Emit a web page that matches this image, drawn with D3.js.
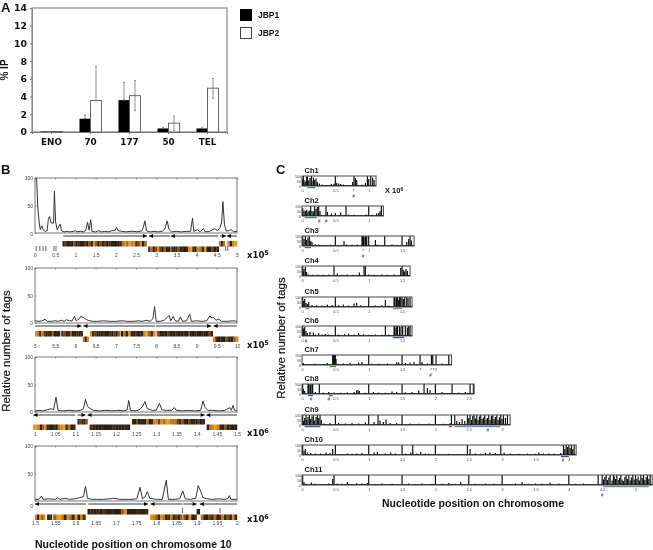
<!DOCTYPE html>
<html>
<head>
<meta charset="utf-8">
<script src="https://cdn.jsdelivr.net/npm/d3@7"></script>
<style>
body { margin: 0; background: #fff; }
svg { display: block; filter: blur(0.4px); font-family: "Liberation Sans", Arial, sans-serif; }
.small text { font-size: 5px; fill: #444; }
.small .domain { display: none; }
</style>
</head>
<body>
<div id="chart"></div>
<script>
// panel A
const categories = ["ENO", "70", "177", "50", "TEL"];
const jbp1 = [0.05, 1.5, 3.6, 0.4, 0.4];
const jbp2 = [0.05, 3.55, 4.1, 1.0, 4.95];
const jbp1Low = [0.05, 1.5, 3.6, 0.4, 0.4];
const jbp1High = [0.05, 1.9, 5.6, 0.5, 0.55];
const jbp2Low = [0.05, 3.55, 2.4, 0.2, 3.8];
const jbp2High = [0.05, 7.4, 5.8, 1.8, 6.05];
const percentTicks = [0, 2, 4, 6, 8, 10, 12, 14];

// panel B, tag profiles along chromosome 10 [position, tags]
const b1Line = [[0,100],[0.04,100],[0.07,45],[0.1,22],[0.13,6],[0.17,13],[0.2,6],[0.25,3],[0.3,4],[0.33,25],[0.36,30],[0.4,18],[0.46,18],[0.48,76],[0.51,20],[0.55,6],[0.58,11],[0.62,16],[0.66,4],[0.72,2],[0.8,3],[0.86,2],[0.95,3],[1,4],[1.04,2],[1.12,3],[1.2,2],[1.26,5],[1.3,20],[1.34,5],[1.38,24],[1.41,3],[1.5,2],[1.58,4],[1.65,2],[1.74,3],[1.82,2],[1.9,4],[1.98,5],[2.02,10],[2.06,4],[2.15,3],[2.25,2],[2.35,3],[2.45,3],[2.55,2],[2.64,4],[2.68,10],[2.72,22],[2.76,4],[2.85,2],[2.95,3],[3.05,2],[3.15,3],[3.22,8],[3.27,22],[3.32,6],[3.38,2],[3.5,3],[3.62,2],[3.74,3],[3.85,3],[3.9,27],[3.93,3],[4.02,6],[4.08,2],[4.17,8],[4.21,2],[4.32,3],[4.45,8],[4.52,4],[4.58,10],[4.62,20],[4.65,57],[4.69,15],[4.74,3],[4.85,6],[4.92,2],[5,3]];
const b2Line = [[5,4],[5.1,3],[5.18,4],[5.25,7],[5.3,3],[5.4,3],[5.5,4],[5.58,3],[5.65,5],[5.72,3],[5.78,6],[5.85,4],[5.92,4],[5.98,12],[6.02,4],[6.1,8],[6.13,12],[6.2,10],[6.28,6],[6.35,4],[6.45,3],[6.55,3],[6.7,4],[6.85,3],[7,3],[7.15,4],[7.3,3],[7.45,3],[7.55,4],[7.65,3],[7.75,5],[7.85,3],[7.92,8],[7.96,30],[8,3],[8.1,3],[8.2,5],[8.32,14],[8.36,4],[8.42,12],[8.47,4],[8.55,3],[8.6,11],[8.65,3],[8.75,4],[8.83,16],[8.87,3],[9,4],[9.12,3],[9.25,4],[9.33,13],[9.37,9],[9.42,10],[9.48,5],[9.55,7],[9.62,3],[9.75,3],[9.9,4],[10,3]];
const b3Line = [[1,2],[1.01,3],[1.02,2],[1.03,4],[1.04,6],[1.046,4],[1.052,27],[1.057,3],[1.07,2],[1.085,3],[1.1,2],[1.112,3],[1.12,6],[1.125,23],[1.13,10],[1.137,6],[1.145,3],[1.16,2],[1.175,3],[1.19,2],[1.205,3],[1.22,2],[1.228,4],[1.232,21],[1.236,3],[1.25,2],[1.26,5],[1.268,12],[1.272,19],[1.278,6],[1.29,3],[1.3,3],[1.308,16],[1.314,4],[1.325,3],[1.338,3],[1.345,8],[1.35,3],[1.365,2],[1.38,3],[1.395,2],[1.41,3],[1.416,20],[1.421,8],[1.428,3],[1.44,3],[1.455,2],[1.47,3],[1.482,8],[1.486,3],[1.49,12],[1.494,3],[1.5,2]];
const b4Line = [[1.5,3],[1.51,3],[1.516,9],[1.52,3],[1.535,4],[1.55,3],[1.556,6],[1.562,3],[1.575,5],[1.585,3],[1.6,4],[1.61,6],[1.62,8],[1.625,27],[1.63,5],[1.64,3],[1.655,3],[1.67,3],[1.685,4],[1.695,5],[1.71,3],[1.725,3],[1.74,3],[1.752,4],[1.76,25],[1.766,4],[1.772,7],[1.778,17],[1.784,5],[1.8,3],[1.815,3],[1.825,38],[1.83,3],[1.845,3],[1.858,4],[1.866,18],[1.872,4],[1.885,3],[1.898,5],[1.904,28],[1.91,18],[1.916,6],[1.925,4],[1.94,3],[1.955,4],[1.97,3],[1.978,5],[1.981,10],[1.985,3],[2,3]];
const b1Ticks = [0, 0.5, 1, 1.5, 2, 2.5, 3, 3.5, 4, 4.5, 5];
const b2Ticks = [5, 5.5, 6, 6.5, 7, 7.5, 8, 8.5, 9, 9.5, 10];
const b3Ticks = [1, 1.05, 1.1, 1.15, 1.2, 1.25, 1.3, 1.35, 1.4, 1.45, 1.5];
const b4Ticks = [1.5, 1.55, 1.6, 1.65, 1.7, 1.75, 1.8, 1.85, 1.9, 1.95, 2];
const tagTicks = [0, 50, 100];

// transcription direction arrows [from, to], pointing towards "to"
const b1Arrows = [[0.7,2.77],[3.34,2.82],[4.53,3.36],[4.57,4.73],[5,4.75]];
const b2Arrows = [[5,6.15],[7.98,6.2],[8,9.36],[10,9.42]];
const b3Arrows = [[1.1,0.996],[1.105,1.125],[1.232,1.13],[1.235,1.42],[1.5,1.424]];
const b4Arrows = [[1.626,1.5],[1.632,1.78],[1.865,1.786],[1.867,1.9],[2,1.908]];

// gene bands [from, to, row], with orange level of each stripe
const b1Bands = [[0.68,1.32,0],[1.32,1.98,0],[1.98,2.76,0],[2.8,3.35,1],[3.37,4.0,1],[4.0,4.55,1],[4.55,4.7,0],[4.76,5,0]];
const b1Levels = [[.1,.4,.1,.2,.1,.5,.1,.3,.1,.1,.4,.1],[.5,.1,.9,.6,.1,.5,.2,.4,.1,.3,.1,.1],[.1,.1,.2,.7,.9,.6,1,.8,.9,.2,.5,.8,.1,.6],[.3,.7,.2,.5,.9,.4,.1,.6,.2,.1],[.3,.1,.2,.5,.1,.3,.1,.2,.9,1,.2,.1],[.9,.7,.2,.9,.1,.1,.4,.1,.2],[.8,.2,.7],[.9,.1,.8,1]];
const b2Bands = [[5,5.62,0],[5.65,6.18,0],[6.18,6.33,1],[6.36,7.1,0],[7.12,7.98,0],[8.01,8.8,0],[8.82,9.4,0],[9.4,10.03,1]];
const b2Levels = [[.9,.7,.2,.9,.4,.1,.2,.1,.6,.1,.2,.1],[.1,.5,.1,.2,.6,.1,.1,.2,.1,.1],[.8,.1,.9],[.9,.2,.4,.1,.2,.1,.3,.1,.1,.3,.1,.4,.1,.6],[.1,.7,.2,.9,.2,.1,.3,.1,.1,.8,1,.6,.2,.9],[.5,.1,.2,.1,.4,.1,.1,.3,.1,.1,.2,.1],[.1,.1,.3,.1,.1,.2,.1,.1,.4,.1],[.9,.3,.1,.2,.1,.5,.2,.1,.6,.9]];
const b3Bands = [[0.996,1.05,1],[1.05,1.1,1],[1.105,1.13,0],[1.135,1.235,1],[1.24,1.27,0],[1.27,1.345,0],[1.345,1.42,0],[1.425,1.5,1]];
const b3Levels = [[.9,1,.8,.1,.6,.9,.2,.1,.1,.3],[.1,.7,.9,1,.3,.7,.1,.3],[.1,.4,.2,.1,.5],[.3,.1,.1,.1,.2,.1,.1,.1,.2,.1,.1,.1,.2,.1],[.2,.1,.5,.1,.2,.1],[.1,.7,.1,.2,.9,.8,.4,.9,.7,.9,1,.8,.7],[.7,.4,.2,.5,.2,.1,.4,.1,.2,.1,.4,.1,.1],[.1,.7,.9,1,.8,.2,.1,.5,.1,.2,.1,.1]];
const b4Bands = [[1.5,1.525,1],[1.53,1.542,1],[1.545,1.625,1],[1.63,1.78,0],[1.785,1.865,1],[1.867,1.9,1],[1.9,1.908,0],[1.91,2,1]];
const b4Levels = [[.8,.2,.9,.6,.8],[.1,.2,.1],[.6,.9,1,.7,.2,.9,.6,.2,.9,.1,.8,.3],[.1,.2,.1,.2,.1,.3,.1,.1,.2,.1,.1,.6,.9,.1,.1,.1,.2,.1,.1,.2],[.9,.8,.6,.2,.9,.7,.1,.3,.8,.2,.4,.2,.6],[.5,.2,.9,.1,.3],[.1],[.7,.2,.1,.4,.2,.6,.1,.3,.8,.2,.5,.1,.9,.2]];

// little black marks under the first profile and the ones above the bands in the last
const b1Marks = [0.03, 0.12, 0.2, 0.27, 0.47, 0.52, 4.72, 4.77];
const b4Marks = [1.865, 1.958];

// panel C
const chrNames = ["Ch1", "Ch2", "Ch3", "Ch4", "Ch5", "Ch6", "Ch7", "Ch8", "Ch9", "Ch10", "Ch11"];
const chrLengths = [1.11, 1.22, 1.68, 1.62, 1.65, 1.65, 2.24, 2.58, 3.12, 4.11, 5.25];
const chrTicks = [[0,0.5,1],[0,0.5,1],[0,0.5,1,1.5],[0,0.5,1,1.5],[0,0.5,1,1.5],[0,0.5,1,1.5],[0,0.5,1,1.5,2],[0,0.5,1,1.5,2,2.5],[0,0.5,1,1.5,2,2.5,3],[0,0.5,1,1.5,2,2.5,3,3.5,4],[0,0.5,1,1.5,2,2.5,3,3.5,4,4.5,5]];
const chrSpikes = [
  [[0.01,70],[0.02,100],[0.03,60],[0.05,45],[0.07,90],[0.08,100],[0.1,55],[0.12,80],[0.14,100],[0.15,50],[0.17,85],[0.19,60],[0.21,75],[0.23,40],[0.26,25],[0.3,15],[0.38,10],[0.44,20],[0.48,22],[0.5,100],[0.52,30],[0.55,25],[0.58,20],[0.62,15],[0.72,10],[0.76,40],[0.78,100],[0.8,80],[0.82,60],[0.9,12],[0.95,30],[0.98,100],[1.0,70],[1.03,100],[1.06,85],[1.08,60]],
  [[0.01,80],[0.03,55],[0.05,50],[0.07,60],[0.09,45],[0.11,55],[0.13,100],[0.15,50],[0.17,45],[0.19,100],[0.21,70],[0.23,90],[0.25,100],[0.27,50],[0.36,100],[0.38,40],[0.44,25],[0.5,30],[0.58,35],[0.66,100],[0.7,15],[0.78,12],[0.88,10],[0.96,15],[1.0,100],[1.05,12],[1.12,25],[1.15,30],[1.17,50],[1.19,100]],
  [[0.01,100],[0.03,70],[0.05,100],[0.07,60],[0.09,85],[0.11,100],[0.13,50],[0.15,40],[0.2,18],[0.25,15],[0.33,10],[0.42,12],[0.5,100],[0.63,50],[0.67,15],[0.75,12],[0.83,14],[0.9,100],[0.91,95],[0.92,100],[0.93,90],[0.95,100],[0.96,85],[0.97,100],[1.0,100],[1.1,60],[1.12,12],[1.24,100],[1.35,15],[1.42,10],[1.5,100],[1.57,40],[1.6,70],[1.62,100],[1.64,55]],
  [[0.01,100],[0.02,45],[0.03,70],[0.05,90],[0.07,40],[0.1,15],[0.16,12],[0.24,15],[0.32,12],[0.4,15],[0.48,100],[0.53,25],[0.6,12],[0.68,15],[0.76,12],[0.86,35],[0.93,100],[0.95,100],[1.0,15],[1.08,12],[1.2,15],[1.28,12],[1.38,15],[1.48,80],[1.5,100],[1.52,60],[1.54,45],[1.56,70],[1.58,50]],
  [[0.01,100],[0.02,60],[0.04,80],[0.06,40],[0.08,30],[0.1,50],[0.15,20],[0.22,18],[0.3,15],[0.38,25],[0.45,20],[0.5,100],[0.55,18],[0.62,25],[0.7,15],[0.78,35],[0.82,40],[0.88,18],[1,100],[1.1,15],[1.2,18],[1.25,70],[1.3,15],[1.38,100],[1.39,100],[1.41,85],[1.42,100],[1.43,100],[1.45,70],[1.46,100],[1.48,100],[1.5,100],[1.52,80],[1.54,100],[1.57,100],[1.59,90],[1.62,100]],
  [[0.01,100],[0.02,75],[0.04,90],[0.06,50],[0.08,30],[0.12,40],[0.17,35],[0.2,15],[0.25,30],[0.3,15],[0.35,20],[0.4,15],[0.5,100],[0.55,15],[0.64,20],[0.7,25],[0.78,15],[0.85,30],[0.92,18],[1.0,12],[1.1,15],[1.2,12],[1.25,100],[1.3,15],[1.38,100],[1.39,100],[1.41,80],[1.42,100],[1.43,100],[1.46,100],[1.47,90],[1.5,100],[1.51,100],[1.55,100],[1.58,85],[1.6,100],[1.62,100]],
  [[0.02,20],[0.1,10],[0.2,12],[0.3,10],[0.38,20],[0.46,100],[0.47,100],[0.48,100],[0.49,100],[0.5,100],[0.51,60],[0.55,12],[0.62,15],[0.72,20],[0.85,25],[0.9,30],[1,100],[1.05,12],[1.15,12],[1.28,15],[1.42,30],[1.45,25],[1.5,100],[1.55,20],[1.62,25],[1.68,30],[1.77,100],[1.8,30],[1.88,15],[1.94,100],[1.96,100],[2.01,100],[2.1,15],[2.2,100]],
  [[0.01,100],[0.02,50],[0.04,30],[0.09,100],[0.1,100],[0.12,100],[0.13,90],[0.15,100],[0.16,100],[0.2,20],[0.26,100],[0.32,15],[0.4,20],[0.48,15],[0.58,12],[0.68,15],[0.78,20],[0.82,35],[0.84,40],[0.86,30],[0.95,12],[1,100],[1.07,20],[1.15,15],[1.25,12],[1.35,25],[1.42,20],[1.5,100],[1.55,18],[1.65,20],[1.75,35],[1.83,100],[1.88,60],[1.92,40],[2,100],[2.1,20],[2.25,100],[2.35,15],[2.45,20],[2.52,100],[2.57,100]],
  [[0.01,100],[0.02,40],[0.04,70],[0.06,100],[0.07,50],[0.09,80],[0.11,100],[0.13,60],[0.15,85],[0.17,100],[0.19,45],[0.21,80],[0.23,100],[0.25,70],[0.27,100],[0.29,50],[0.33,15],[0.42,20],[0.5,100],[0.55,20],[0.65,15],[0.75,20],[0.85,15],[0.95,25],[1,100],[1.08,30],[1.14,100],[1.17,45],[1.22,30],[1.26,55],[1.32,20],[1.42,20],[1.5,100],[1.62,15],[1.75,12],[1.9,15],[2,100],[2.12,12],[2.22,20],[2.24,100],[2.29,100],[2.32,40],[2.36,30],[2.4,60],[2.44,40],[2.48,100],[2.5,70],[2.52,100],[2.54,50],[2.56,90],[2.58,100],[2.6,65],[2.62,100],[2.64,50],[2.66,85],[2.68,100],[2.7,60],[2.72,75],[2.74,100],[2.76,55],[2.78,70],[2.8,100],[2.82,50],[2.84,90],[2.86,100],[2.88,60],[2.9,80],[2.92,100],[2.94,50],[2.96,75],[2.98,100],[3.0,60],[3.02,100],[3.05,70],[3.08,100]],
  [[0.01,100],[0.03,40],[0.05,60],[0.08,25],[0.13,20],[0.2,15],[0.28,15],[0.36,25],[0.42,20],[0.46,60],[0.5,100],[0.6,10],[0.68,15],[0.75,12],[0.82,15],[0.9,20],[1,100],[1.08,25],[1.13,30],[1.25,15],[1.33,25],[1.4,15],[1.5,100],[1.55,15],[1.63,25],[1.66,100],[1.72,15],[1.78,30],[1.85,15],[1.9,12],[2,100],[2.05,10],[2.2,12],[2.32,10],[2.48,100],[2.52,60],[2.6,15],[2.68,12],[2.75,20],[2.82,25],[2.9,20],[2.98,100],[3.03,25],[3.12,15],[3.25,12],[3.38,15],[3.5,12],[3.55,25],[3.62,15],[3.7,15],[3.78,12],[3.88,20],[3.92,100],[3.94,60],[3.96,100],[3.98,80],[4,100],[4.02,70],[4.04,100],[4.06,60],[4.08,100]],
  [[0.01,100],[0.03,30],[0.06,12],[0.14,25],[0.2,12],[0.3,10],[0.4,15],[0.46,60],[0.48,100],[0.53,15],[0.6,12],[0.68,30],[0.75,10],[0.82,18],[0.9,15],[0.98,20],[1,100],[1.1,10],[1.2,15],[1.35,12],[1.5,100],[1.6,15],[1.7,10],[1.8,15],[1.95,12],[2,100],[2.1,12],[2.2,20],[2.3,12],[2.38,30],[2.5,100],[2.6,12],[2.75,15],[2.88,12],[3,100],[3.1,10],[3.2,15],[3.3,30],[3.4,12],[3.5,15],[3.6,12],[3.72,25],[3.85,15],[4,100],[4.1,12],[4.22,15],[4.44,100],[4.67,100],[4.5,100],[4.52,55],[4.54,80],[4.56,100],[4.58,50],[4.6,75],[4.62,100],[4.65,45],[4.68,85],[4.7,60],[4.72,100],[4.74,50],[4.76,70],[4.78,100],[4.8,55],[4.82,40],[4.84,80],[4.86,100],[4.88,60],[4.9,100],[4.92,45],[4.94,75],[4.96,100],[4.98,55],[5,100],[5.02,60],[5.04,85],[5.06,45],[5.08,100],[5.1,70],[5.12,100],[5.14,50],[5.16,80],[5.18,100],[5.2,60],[5.22,100]]
];
// coloured bars under the chromosome plots [from, to, colour]
const chrBars = [[[0.08,0.2,"#3c8a4c"]],[[0.04,0.22,"#3c8a4c"]],[[0.04,0.135,"#4a5f9f"]],[],[[0.05,0.115,"#6b88b5"],[1.365,1.5,"#6b88b5"]],[[1.36,1.535,"#3c5296"]],[[0.415,0.51,"#3c8a4c"]],[[0.09,0.165,"#3c5296"],[0.4,0.46,"#c03030"]],[[0.04,0.275,"#3c5296"],[2.2,2.25,"#c03030"],[2.285,2.975,"#6b88b5"]],[[3.885,4.0,"#3c5296"]],[[4.515,5.2,"#6b88b5"]]];
// markers under the plots [position, symbol, row]
const chrMarks = [[[0.775,"*",0],[0.775,"#",1]],[[0.26,"#",0],[0.365,"#",0]],[[0.915,"*",0],[0.915,"#",1]],[],[],[[0.06,"#",0]],[[1.775,"*",0],[1.935,"*",0],[1.975,"*",0],[1.925,"#",1]],[[0.135,"#",0],[0.4,"#",0]],[[2.785,"#",0]],[[3.915,"#",0]],[[4.5,"#",1]]];

const svg = d3.select("#chart").append("svg")
    .attr("width", 653)
    .attr("height", 550);

function label(x, y, txt, size, weight, anchor) {
    return svg.append("text")
        .attr("x", x)
        .attr("y", y)
        .attr("font-size", size)
        .attr("font-weight", weight || "bold")
        .attr("text-anchor", anchor || "start")
        .attr("fill", "#111")
        .text(txt);
}

label(1, 12, "A", 13);
label(1, 174, "B", 13);
label(276, 174, "C", 13);

// ---- panel A
function drawBars() {
    const x = d3.scaleBand().domain(categories).range([32, 227]);
    const y = d3.scaleLinear().domain([0, 14]).range([132, 8]);
    const barW = 11;
    const g = svg.append("g");

    g.append("rect")
        .attr("x", 32).attr("y", 8)
        .attr("width", 195).attr("height", 124)
        .attr("fill", "none").attr("stroke", "#888").attr("stroke-width", 1.2);

    const yAxis = g.append("g")
        .attr("transform", "translate(32,0)")
        .call(d3.axisLeft(y).tickValues(percentTicks).tickSize(2).tickPadding(3));
    yAxis.selectAll("text")
        .attr("font-family", "DejaVu Sans")
        .attr("font-weight", "bold")
        .attr("font-size", 9.3)
        .attr("fill", "#111");
    yAxis.selectAll("line").attr("stroke", "#777");
    yAxis.select(".domain").attr("stroke", "#888");

    const xAxis = g.append("g")
        .attr("transform", "translate(0,132)")
        .call(d3.axisBottom(x).tickSize(2).tickPadding(5));
    xAxis.selectAll("text")
        .attr("font-family", "DejaVu Sans")
        .attr("font-weight", "bold")
        .attr("font-size", 8.8)
        .attr("fill", "#111");
    xAxis.selectAll("line").attr("stroke", "#777");
    xAxis.select(".domain").attr("stroke", "#777").attr("stroke-width", 1.2);

    g.selectAll(".j1").data(categories).enter().append("rect")
        .attr("x", d => x(d) + x.bandwidth() / 2 - barW)
        .attr("y", (d, i) => y(jbp1[i]))
        .attr("width", barW)
        .attr("height", (d, i) => y(0) - y(jbp1[i]))
        .attr("fill", "#000");
    g.selectAll(".j2").data(categories).enter().append("rect")
        .attr("x", d => x(d) + x.bandwidth() / 2)
        .attr("y", (d, i) => y(jbp2[i]))
        .attr("width", barW)
        .attr("height", (d, i) => y(0) - y(jbp2[i]))
        .attr("fill", "#fff")
        .attr("stroke", "#555")
        .attr("stroke-width", 0.9);

    function errors(low, high, dx) {
        g.selectAll(null).data(categories).enter().append("path")
            .attr("d", (d, i) => {
                const cx = x(d) + x.bandwidth() / 2 + dx;
                return "M" + (cx - 1) + "," + y(high[i]) + "H" + (cx + 1)
                    + "M" + cx + "," + y(high[i]) + "V" + y(low[i])
                    + "M" + (cx - 1) + "," + y(low[i]) + "H" + (cx + 1);
            })
            .attr("fill", "none")
            .attr("stroke", "#666")
            .attr("stroke-width", 0.7);
    }
    errors(jbp1Low, jbp1High, -barW / 2);
    errors(jbp2Low, jbp2High, barW / 2);

    g.append("rect").attr("x", 240).attr("y", 9).attr("width", 12).attr("height", 12).attr("fill", "#000");
    g.append("rect").attr("x", 240.5).attr("y", 27.5).attr("width", 11).attr("height", 11)
        .attr("fill", "#fff").attr("stroke", "#444");
    label(258, 18, "JBP1", 8.5);
    label(258, 36, "JBP2", 8.5);

    label(0, 0, "% IP", 10)
        .attr("text-anchor", "middle")
        .attr("transform", "translate(8,70) rotate(-90)");
}
drawBars();

// ---- panel B
const orange = d3.scaleLinear()
    .domain([0, 0.3, 0.7, 1])
    .range(["#1f1610", "#4a2f14", "#b8741c", "#f09a20"]);

function drawProfile(opt) {
    const x = d3.scaleLinear().domain(d3.extent(opt.ticks)).range([35, 237]);
    const y = d3.scaleLinear().domain([0, 100]).range([opt.y0, opt.y0 - 55]);
    const g = svg.append("g").attr("class", "small");

    const clipId = "clip" + opt.y0;
    g.append("clipPath").attr("id", clipId).append("rect")
        .attr("x", 35).attr("y", y(100)).attr("width", 202).attr("height", 55);

    g.append("path")
        .datum(opt.line)
        .attr("clip-path", "url(#" + clipId + ")")
        .attr("d", d3.line().x(d => x(d[0])).y(d => y(d[1])))
        .attr("fill", "none")
        .attr("stroke", "#333")
        .attr("stroke-width", 1);

    g.append("rect")
        .attr("x", 35).attr("y", y(100))
        .attr("width", 202).attr("height", 55)
        .attr("fill", "none").attr("stroke", "#555").attr("stroke-width", 0.8);

    // tick marks on top, numbers under the gene bands
    g.append("g")
        .attr("transform", "translate(0," + y(100) + ")")
        .call(d3.axisTop(x).tickValues(opt.ticks).tickSize(-1.5).tickFormat(""))
        .selectAll("line").attr("stroke", "#333").attr("stroke-width", 0.5);
    g.append("g")
        .attr("transform", "translate(0," + (opt.labelY - 1.3) + ")")
        .call(d3.axisBottom(x).tickValues(opt.ticks).tickSize(0).tickPadding(0).tickFormat(d3.format("")))
        .selectAll("text").attr("dy", "0.6em");
    const yAxis = g.append("g")
        .attr("transform", "translate(35,0)")
        .call(d3.axisLeft(y).tickValues(tagTicks).tickSize(-1.5).tickPadding(2));
    yAxis.selectAll("line").attr("stroke", "#333").attr("stroke-width", 0.5);
    yAxis.selectAll(".tick").filter(d => d === 0).select("text").attr("dy", opt.zeroDy);

    // direction arrows
    opt.arrows.forEach(function (a) {
        const x0 = x(a[0]), x1 = x(a[1]), dir = x1 > x0 ? 1 : -1, ay = opt.y0 + 3;
        g.append("line")
            .attr("x1", x0).attr("x2", x1).attr("y1", ay).attr("y2", ay)
            .attr("stroke", "#000").attr("stroke-width", 0.8);
        g.append("path")
            .attr("d", "M" + x1 + "," + ay + "l" + (-4 * dir) + ",-2v4z")
            .attr("fill", "#000");
    });

    // gene bands
    opt.bands.forEach(function (b, i) {
        const lv = opt.levels[i];
        const sx = d3.scaleLinear().domain([0, lv.length]).range([x(b[0]), x(b[1])]);
        g.selectAll(null).data(lv).enter().append("rect")
            .attr("x", (d, j) => sx(j))
            .attr("y", opt.bandY + b[2] * 5.5)
            .attr("width", (sx(1) - sx(0)) + 0.2)
            .attr("height", 5.5)
            .attr("fill", d => orange(d));
    });

    (opt.marks || []).forEach(function (m) {
        g.append("line")
            .attr("x1", x(m)).attr("x2", x(m))
            .attr("y1", opt.markY).attr("y2", opt.markY + 5)
            .attr("stroke", "#222").attr("stroke-width", 0.7);
    });

    const big = label(247, opt.unitY, "x10", 8.5).attr("font-family", "DejaVu Sans");
    big.append("tspan").attr("dy", -3).attr("font-size", 6.5).text(opt.exp);
}

drawProfile({ y0: 233, ticks: b1Ticks, line: b1Line, arrows: b1Arrows, bands: b1Bands, levels: b1Levels, bandY: 241, marks: b1Marks, markY: 246, labelY: 255, unitY: 258, exp: "5", zeroDy: "0.55em" });
drawProfile({ y0: 323, ticks: b2Ticks, line: b2Line, arrows: b2Arrows, bands: b2Bands, levels: b2Levels, bandY: 331, labelY: 346, unitY: 348, exp: "5", zeroDy: "0.32em" });
drawProfile({ y0: 412, ticks: b3Ticks, line: b3Line, arrows: b3Arrows, bands: b3Bands, levels: b3Levels, bandY: 419, labelY: 434, unitY: 436, exp: "6", zeroDy: "0.32em" });
drawProfile({ y0: 501, ticks: b4Ticks, line: b4Line, arrows: b4Arrows, bands: b4Bands, levels: b4Levels, bandY: 509, marks: b4Marks, markY: 508, labelY: 523, unitY: 522, exp: "6", zeroDy: "1.3em" });

label(0, 0, "Relative number of tags", 11.5, "normal")
    .attr("text-anchor", "middle")
    .attr("stroke", "#111").attr("stroke-width", 0.2)
    .attr("transform", "translate(9.5,351) rotate(-90)");
label(35, 548, "Nucleotide position on chromosome 10", 10.5);

// ---- panel C
const chrTop = [176, 206, 236, 266, 297, 326, 355, 384, 415, 445, 475];
const chrX = d3.scaleLinear().domain([0, 1]).range([302, 368.7]);

chrNames.forEach(function (name, i) {
    const top = chrTop[i], h = 10;
    const y = d3.scaleLinear().domain([0, 100]).range([top + h, top]);
    const g = svg.append("g").attr("class", "small");

    label(304.5, top - 3, name, 7.5);

    g.selectAll(".spike").data(chrSpikes[i]).enter().append("line")
        .attr("x1", d => chrX(d[0])).attr("x2", d => chrX(d[0]))
        .attr("y1", y(0)).attr("y2", d => y(d[1]))
        .attr("stroke", "#111")
        .attr("stroke-width", 1.2);

    g.append("rect")
        .attr("x", chrX(0)).attr("y", top)
        .attr("width", chrX(chrLengths[i]) - chrX(0)).attr("height", h)
        .attr("fill", "none").attr("stroke", "#444").attr("stroke-width", 1);
    g.append("line")
        .attr("x1", chrX(0)).attr("x2", chrX(chrLengths[i]))
        .attr("y1", y(5)).attr("y2", y(5))
        .attr("stroke", "#222").attr("stroke-width", 0.8);

    const yAxis = g.append("g")
        .attr("transform", "translate(" + chrX(0) + ",0)")
        .call(d3.axisLeft(y).tickValues(tagTicks).tickSize(0).tickPadding(1));
    yAxis.selectAll("text").style("font-size", "3.6px");

    const xAxis = g.append("g")
        .attr("transform", "translate(0," + (top + h + 1.5) + ")")
        .call(d3.axisBottom(chrX).tickValues(chrTicks[i]).tickSize(0).tickPadding(2).tickFormat(d3.format("")));
    xAxis.selectAll("text").style("font-size", "3.8px");

    g.selectAll(".bar").data(chrBars[i]).enter().append("rect")
        .attr("x", d => chrX(d[0]))
        .attr("y", top + h + 1)
        .attr("width", d => chrX(d[1]) - chrX(d[0]))
        .attr("height", 1.2)
        .attr("fill", d => d[2]);

    g.selectAll(".mark").data(chrMarks[i]).enter().append("text")
        .attr("x", d => chrX(d[0]))
        .attr("y", d => top + h + 7 + d[2] * 5)
        .attr("text-anchor", "middle")
        .style("font-size", "4.5px")
        .text(d => d[1]);
});

const unitC = label(385, 193, "X 10", 7.5);
unitC.append("tspan").attr("dy", -2.5).attr("font-size", 5).text("6");

label(0, 0, "Relative number of tags", 11.5, "normal")
    .attr("text-anchor", "middle")
    .attr("stroke", "#111").attr("stroke-width", 0.2)
    .attr("transform", "translate(285,338) rotate(-90)");
label(382, 507, "Nucleotide position on chromosome", 10.5);
</script>
</body>
</html>
